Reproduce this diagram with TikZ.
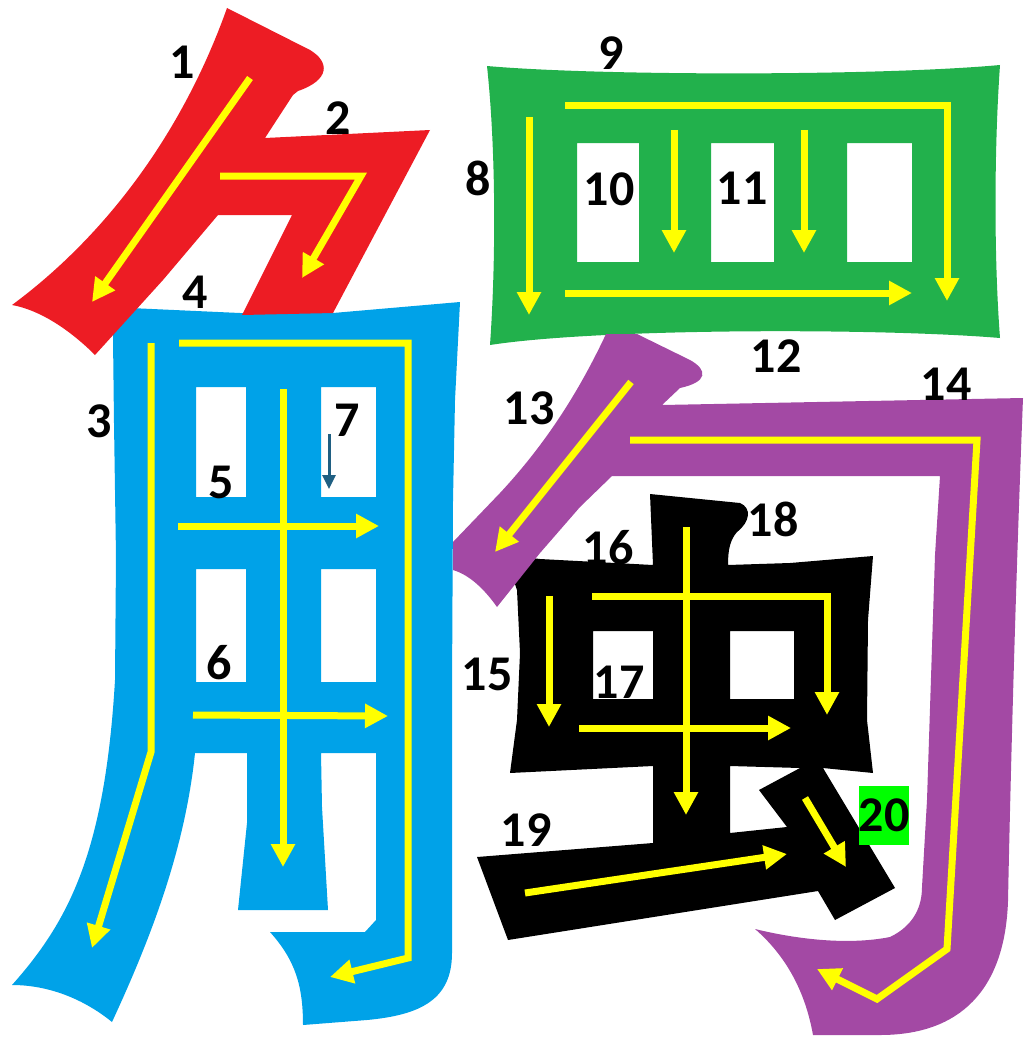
\documentclass[tikz,border=0pt]{standalone}
\usepackage{fontspec}
\setmainfont{Carlito}
\usetikzlibrary{arrows.meta}
\definecolor{cred}{RGB}{237,28,36}
\definecolor{cblue}{RGB}{0,162,232}
\definecolor{cgreen}{RGB}{34,177,76}
\definecolor{cpurple}{RGB}{163,73,164}
\definecolor{cyel}{RGB}{255,255,0}
\definecolor{cdark}{RGB}{31,95,130}
\definecolor{clime}{RGB}{0,255,0}
\begin{document}
\begin{tikzpicture}[x=1pt,y=-1pt,
  yarr/.style={draw=cyel, line width=7pt, -{Triangle[length=23pt,width=23pt]}},
  darr/.style={draw=cdark, line width=3pt, -{Triangle[length=14pt,width=13pt]}},
  lbl/.style={font=\fontsize{50}{50}\selectfont\bfseries, inner sep=0pt, text=black},
]
\useasboundingbox (0,0) rectangle (1031,1038);
% blue (jiao body)
\fill[cblue, even odd rule] (130,308) -- (240,313) -- (333,313) -- (460,302) -- (455,400) -- (453,500) -- (452,690) -- (452,953)
  .. controls (452,1000) and (420,1015) .. (367,1020) -- (303,1025)
  .. controls (303,985) and (295,960) .. (270,932) -- (365,932) -- (376,920) -- (376,753) -- (321,753) -- (322,807) -- (328,910)
  -- (238,910) -- (247,823) -- (247,753) -- (195,753)
  .. controls (185,850) and (150,940) .. (112,1022)
  .. controls (85,1000) and (50,985) .. (12,985)
  .. controls (70,920) and (105,850) .. (115,680) -- (116,557) -- (114,423) -- (113,337) -- (113,308) -- cycle
  (196,387) rectangle (246,497) (321,387) rectangle (376,497) (196,569) rectangle (246,682) (321,569) rectangle (376,682);
% red
\fill[cred] (227,8) -- (310,50) .. controls (330,62) and (330,80) .. (298,91) -- (293,95) -- (265,138) -- (430,130) -- (333,313)
  -- (242,315) -- (292,215) -- (218,215) -- (163,280) -- (95,355)
  .. controls (70,330) and (40,310) .. (12,305)
  .. controls (100,240) and (180,140) .. (227,8) -- cycle;
% green
\fill[cgreen, even odd rule] (487,66) .. controls (600,76) and (880,76) .. (1000,65)
  .. controls (994,150) and (994,260) .. (1000,338)
  .. controls (880,328) and (600,328) .. (490,345)
  .. controls (496,260) and (496,150) .. (487,66) -- cycle
  (577,143) rectangle (639,262) (711,143) rectangle (774,262) (847,143) rectangle (912,262);
% black
\fill[black, even odd rule] (650,494) -- (740,503) .. controls (752,508) and (750,522) .. (737,532)
  .. controls (730,540) and (728,550) .. (728,565) -- (790,563) -- (873,556) -- (868,620) -- (867,720) -- (873,773)
  -- (823,768) -- (895,888) -- (835,920) -- (818,891) -- (508,940) -- (477,857) -- (653,843) -- (653,766) -- (510,773)
  -- (517,720) -- (520,653) -- (517,590) -- (505,555) -- (540,559) -- (653,565) -- cycle
  (730,766) -- (800,768) -- (759,790) -- (787,827) -- (730,833) -- cycle
  (593,631) rectangle (653,699) (730,631) rectangle (794,699);
% purple
\fill[cpurple] (606,334) -- (637,334) -- (690,360) .. controls (708,370) and (708,382) .. (680,388) -- (662,405) -- (1023,398)
  .. controls (1015,600) and (1010,800) .. (1008,901)
  .. controls (1005,990) and (960,1035) .. (880,1035) -- (813,1035)
  .. controls (805,990) and (785,955) .. (755,929)
  .. controls (800,940) and (850,945) .. (890,937)
  .. controls (915,925) and (922,905) .. (922,887) -- (927,800) -- (935,555) -- (940,476) -- (612,476)
  -- (580,507) -- (540,553) -- (497,607)
  .. controls (485,590) and (470,575) .. (453,570) -- (453,542) -- (500,493)
  .. controls (540,450) and (575,400) .. (606,334) -- cycle;
% arrows
\draw[yarr] (250,78) -- (92,302);
\draw[yarr] (220,176) -- (361,176) -- (302,278);
\draw[yarr] (151,343) -- (151,752) -- (92,948);
\draw[yarr] (179,343) -- (408,343) -- (408,958) -- (330,977);
\draw[yarr] (178,526) -- (379,526);
\draw[yarr] (193,715) -- (388,716);
\draw[yarr] (283,389) -- (283,867);
\draw[darr] (329,434) -- (329,489);
\draw[yarr] (529,117) -- (529,315);
\draw[yarr] (565,106) -- (947,106) -- (947,301);
\draw[yarr] (674,130) -- (674,253);
\draw[yarr] (804,130) -- (804,253);
\draw[yarr] (565,293) -- (912,293);
\draw[yarr] (631,382) -- (495,552);
\draw[yarr] (630,440) -- (977,440) -- (947,949) -- (877,999) -- (817,969);
\draw[yarr] (549,596) -- (549,727);
\draw[yarr] (592,596) -- (827,596) -- (827,715);
\draw[yarr] (579,728) -- (791,728);
\draw[yarr] (686,527) -- (686,815);
\draw[yarr] (525,893) -- (787,854);
\draw[yarr] (805,798) -- (846,867);
% labels
\node[lbl] (n1) at (182,62) {1};
\node[lbl] (n2) at (338,118) {2};
\node[lbl] (n3) at (99,421) {3};
\node[lbl] (n4) at (195,292) {4};
\node[lbl] (n5) at (221,482) {5};
\node[lbl] (n6) at (219,663) {6};
\node[lbl] (n7) at (347,420) {7};
\node[lbl] (n8) at (478,178) {8};
\node[lbl] (n9) at (611,53) {9};
\node[lbl] (n10) at (609,189) {10};
\node[lbl] (n11) at (742,188) {11};
\node[lbl] (n12) at (776,356) {12};
\node[lbl] (n13) at (529,408) {13};
\node[lbl] (n14) at (946,384) {14};
\node[lbl] (n15) at (487,674) {15};
\node[lbl] (n16) at (608,548) {16};
\node[lbl] (n17) at (619,682) {17};
\node[lbl] (n18) at (773,519) {18};
\node[lbl] (n19) at (526,830) {19};
\node[lbl, fill=clime, minimum width=49pt, minimum height=59pt] (n20) at (884,815) {20};
\end{tikzpicture}
\end{document}
